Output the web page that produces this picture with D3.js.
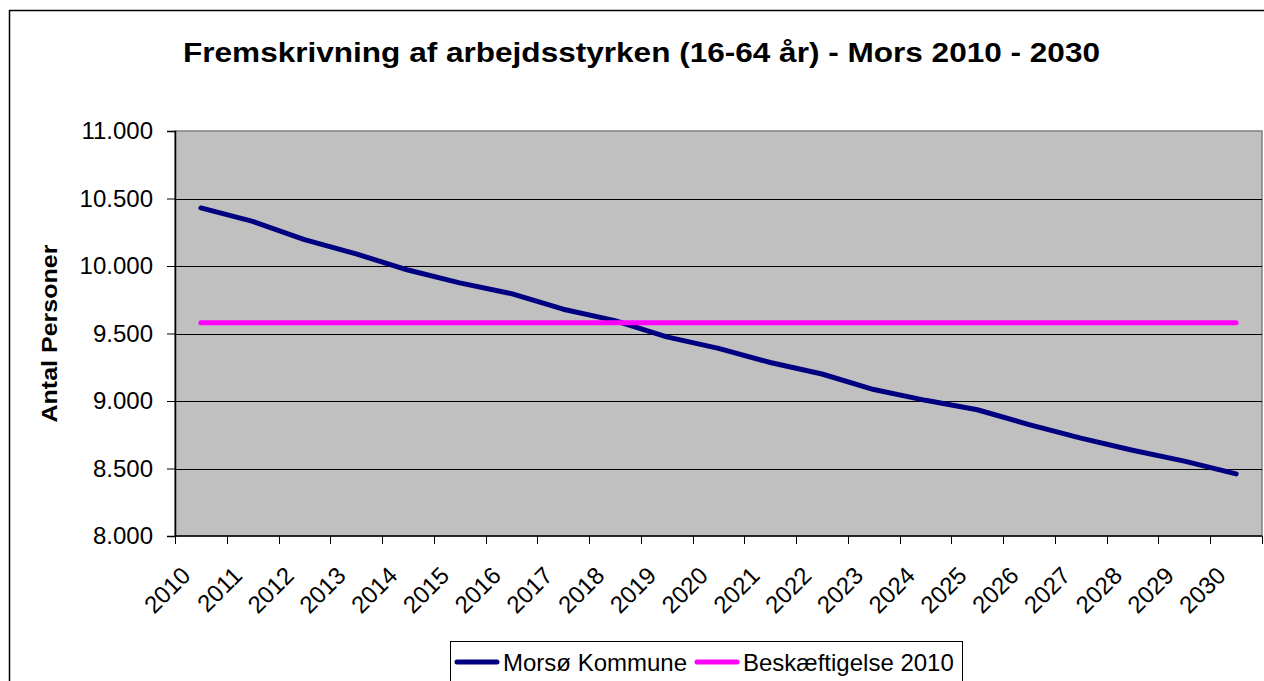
<!DOCTYPE html>
<html>
  <head>
    <script src="https://d3js.org/d3.v7.min.js"></script>
    <style>
      html, body {
        margin: 0;
        padding: 0;
        overflow: hidden;
        background: #fff;
      }
      svg text {
        font-family: "Liberation Sans", Arial, sans-serif;
        fill: #000;
      }
    </style>
  </head>
  <body>
    <div id="chart"></div>
    <script>
      // Data
      const years = ["2010", "2011", "2012", "2013", "2014", "2015", "2016", "2017", "2018", "2019", "2020",
                     "2021", "2022", "2023", "2024", "2025", "2026", "2027", "2028", "2029", "2030"];
      const morsoe = [10430, 10330, 10195, 10090, 9970, 9875, 9795, 9680, 9595, 9475, 9390,
                      9285, 9200, 9085, 9005, 8935, 8825, 8725, 8635, 8555, 8460];
      const beskaeftigelse = [9580, 9580, 9580, 9580, 9580, 9580, 9580, 9580, 9580, 9580, 9580,
                              9580, 9580, 9580, 9580, 9580, 9580, 9580, 9580, 9580, 9580];
      const yTicks = [8000, 8500, 9000, 9500, 10000, 10500, 11000];
      const seriesNames = ["Morsø Kommune", "Beskæftigelse 2010"];
      const seriesColors = ["#000080", "#ff00ff"];

      const width = 1264, height = 681;
      const plot = { left: 175, right: 1262, top: 131, bottom: 536 };

      const svg = d3.select("#chart").append("svg")
        .attr("width", width)
        .attr("height", height);

      // outer chart border (runs off the right / bottom)
      svg.append("rect")
        .attr("x", 9.5).attr("y", 10.5)
        .attr("width", width).attr("height", height)
        .attr("fill", "none")
        .attr("stroke", "#000")
        .attr("stroke-width", 1.5);

      const x = d3.scaleBand().domain(years).range([plot.left, plot.right]).padding(0);
      const y = d3.scaleLinear().domain([8000, 11000]).range([plot.bottom, plot.top]);

      // plot background
      svg.append("rect")
        .attr("x", plot.left).attr("y", plot.top)
        .attr("width", plot.right - plot.left).attr("height", plot.bottom - plot.top)
        .attr("fill", "#c0c0c0")
        .attr("stroke", "#808080")
        .attr("stroke-width", 1.5);

      // gridlines
      svg.append("g")
        .selectAll("line")
        .data(yTicks.filter(d => d > 8000 && d < 11000))
        .join("line")
        .attr("x1", plot.left).attr("x2", plot.right)
        .attr("y1", d => Math.round(y(d)) + 0.5)
        .attr("y2", d => Math.round(y(d)) + 0.5)
        .attr("stroke", "#000")
        .attr("stroke-width", 1);

      // y axis
      const yAxis = svg.append("g")
        .attr("transform", `translate(${plot.left},0)`)
        .call(d3.axisLeft(y).tickValues(yTicks).tickSize(8).tickPadding(14)
          .tickFormat(d => d3.format(",")(d).replace(",", ".")));
      yAxis.select(".domain").attr("stroke", "#000").attr("stroke-width", 1.5);
      yAxis.selectAll(".tick line").attr("stroke", "#000");
      yAxis.selectAll(".tick text")
        .style("font-size", "24px")
        .attr("font-family", null);

      // x axis: ticks between categories
      const xg = svg.append("g");
      xg.append("line")
        .attr("x1", plot.left).attr("x2", plot.right)
        .attr("y1", plot.bottom).attr("y2", plot.bottom)
        .attr("stroke", "#000").attr("stroke-width", 1.5);
      const bounds = years.map(d => x(d)).concat([plot.right]);
      xg.selectAll("line.tk")
        .data(bounds)
        .join("line")
        .attr("class", "tk")
        .attr("x1", d => Math.round(d) + 0.5).attr("x2", d => Math.round(d) + 0.5)
        .attr("y1", plot.bottom).attr("y2", plot.bottom + 8)
        .attr("stroke", "#000");
      xg.selectAll("text")
        .data(years)
        .join("text")
        .attr("transform", d => `translate(${x(d) + x.bandwidth() / 2 - 9},${plot.bottom + 41}) rotate(-45)`)
        .attr("text-anchor", "end")
        .style("font-size", "24px")
        .text(d => d);

      // lines
      const line = d3.line()
        .x((d, i) => x(years[i]) + x.bandwidth() / 2)
        .y(d => y(d));

      [morsoe, beskaeftigelse].forEach((s, i) => {
        svg.append("path")
          .datum(s)
          .attr("d", line)
          .attr("fill", "none")
          .attr("stroke", seriesColors[i])
          .attr("stroke-width", 5)
          .attr("stroke-linecap", "round")
          .attr("stroke-linejoin", "round");
      });

      // title
      svg.append("text")
        .attr("x", 641.5).attr("y", 62)
        .attr("text-anchor", "middle")
        .attr("textLength", 917)
        .attr("lengthAdjust", "spacingAndGlyphs")
        .style("font-size", "28px")
        .style("font-weight", "bold")
        .text("Fremskrivning af arbejdsstyrken (16-64 år) - Mors 2010 - 2030");

      // y axis title
      svg.append("text")
        .attr("transform", `translate(57,${(plot.top + plot.bottom) / 2}) rotate(-90)`)
        .attr("text-anchor", "middle")
        .attr("textLength", 178)
        .attr("lengthAdjust", "spacingAndGlyphs")
        .style("font-size", "22px")
        .style("font-weight", "bold")
        .text("Antal Personer");

      // legend
      const legend = svg.append("g");
      legend.append("rect")
        .attr("x", 450.5).attr("y", 641.5)
        .attr("width", 512).attr("height", 60)
        .attr("fill", "#fff")
        .attr("stroke", "#000")
        .attr("stroke-width", 1);
      const legendX = [457, 697];
      seriesNames.forEach((name, i) => {
        legend.append("line")
          .attr("x1", legendX[i]).attr("x2", legendX[i] + 40)
          .attr("y1", 662).attr("y2", 662)
          .attr("stroke", seriesColors[i])
          .attr("stroke-width", 5)
          .attr("stroke-linecap", "round");
        legend.append("text")
          .attr("x", legendX[i] + 46).attr("y", 671)
          .style("font-size", "24px")
          .text(name);
      });
    </script>
  </body>
</html>
